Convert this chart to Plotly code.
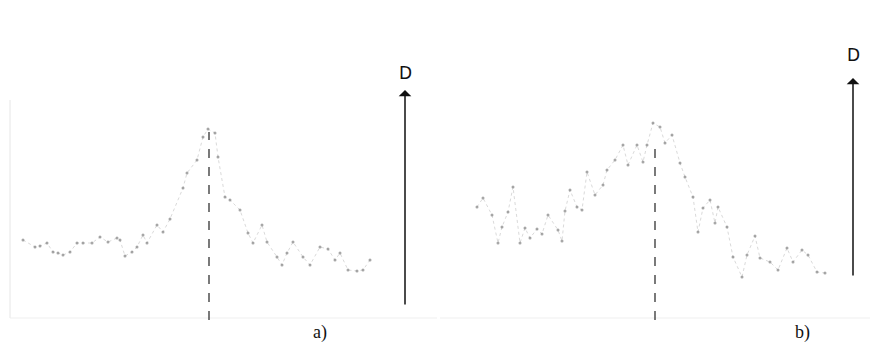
import plotly.graph_objects as go

# Panel a) : position along scan (arb. units) and intensity (arb. units)
xa = [23, 35, 40, 47, 53, 58, 63, 70, 77, 83, 92, 100, 108, 117, 120, 125, 132, 137, 143, 147,
      157, 163, 170, 183, 187, 197, 203, 208, 215, 218, 225, 230, 240, 248, 253, 262, 267, 277,
      282, 287, 293, 303, 310, 320, 328, 335, 340, 348, 357, 363, 370]
ya = [80, 73, 74, 77, 68, 67, 65, 68, 77, 77, 77, 83, 78, 82, 80, 64, 68, 73, 85, 77,
      95, 88, 101, 132, 147, 160, 183, 191, 187, 163, 123, 120, 110, 87, 77, 95, 78, 63,
      55, 67, 78, 63, 55, 73, 71, 60, 67, 50, 49, 50, 60]

# Panel b)
xb = [477, 483, 492, 498, 502, 508, 513, 520, 525, 530, 537, 542, 548, 558, 562, 565, 570, 577,
      582, 587, 595, 603, 607, 615, 623, 628, 637, 643, 647, 653, 660, 665, 672, 680, 685, 693,
      698, 703, 710, 715, 718, 727, 733, 742, 747, 755, 760, 770, 778, 787, 793, 802, 808, 817, 825]
yb = [113, 122, 105, 77, 93, 108, 133, 77, 92, 82, 91, 86, 105, 90, 79, 109, 130, 113,
      110, 148, 125, 135, 150, 160, 175, 155, 175, 158, 175, 197, 193, 177, 185, 157, 143, 123,
      88, 112, 120, 97, 113, 93, 63, 43, 65, 84, 62, 58, 50, 72, 58, 70, 65, 48, 47]

peak_a = 209
peak_b = 655

fig = go.Figure()
common = dict(mode="lines+markers",
              line=dict(color="#dadada", width=1, dash="dot"),
              marker=dict(color="#8a8a8a", size=3, opacity=0.75),
              showlegend=False, hoverinfo="skip")
fig.add_trace(go.Scatter(x=xa, y=ya, xaxis="x", yaxis="y", **common))
fig.add_trace(go.Scatter(x=xb, y=yb, xaxis="x2", yaxis="y", **common))

ax_common = dict(showgrid=False, zeroline=False, showticklabels=False, ticks="", showline=False)
fig.update_layout(
    width=875, height=347,
    margin=dict(l=0, r=0, t=0, b=0),
    paper_bgcolor="white", plot_bgcolor="white",
    xaxis=dict(domain=[0, 0.5], range=[0, 437.5], **ax_common),
    xaxis2=dict(domain=[0.5, 1], range=[437.5, 875], **ax_common),
    yaxis=dict(range=[-27, 320], **ax_common),
)

shapes = [
    # faint frames
    dict(type="line", xref="x", yref="y", x0=10, x1=10, y0=2, y1=220, line=dict(color="#e6e6e6", width=1)),
    dict(type="line", xref="x", yref="y", x0=10, x1=437, y0=2, y1=2, line=dict(color="#efefef", width=1)),
    dict(type="line", xref="x2", yref="y", x0=440, x1=870, y0=2, y1=2, line=dict(color="#efefef", width=1)),
    # dashed peak markers
    dict(type="line", xref="x", yref="y", x0=peak_a, x1=peak_a, y0=0, y1=188,
         line=dict(color="#222", width=1.2, dash="dash")),
    dict(type="line", xref="x2", yref="y", x0=peak_b, x1=peak_b, y0=0, y1=178,
         line=dict(color="#222", width=1.2, dash="dash")),
]
fig.update_layout(shapes=shapes)

annotations = [
    dict(x=405, y=230, ax=405, ay=14, xref="x", yref="y", axref="x", ayref="y",
         showarrow=True, arrowhead=1, arrowsize=1.4, arrowwidth=1.5, arrowcolor="#111", text=""),
    dict(x=853, y=242, ax=853, ay=43, xref="x2", yref="y", axref="x2", ayref="y",
         showarrow=True, arrowhead=1, arrowsize=1.4, arrowwidth=1.5, arrowcolor="#111", text=""),
    dict(x=405, y=247, xref="x", yref="y", text="D", showarrow=False,
         font=dict(family="DejaVu Sans", size=17, color="#111")),
    dict(x=853, y=265, xref="x2", yref="y", text="D", showarrow=False,
         font=dict(family="DejaVu Sans", size=17, color="#111")),
    dict(x=320, y=-12, xref="x", yref="y", text="a)", showarrow=False,
         font=dict(family="Liberation Serif", size=18, color="#111")),
    dict(x=802, y=-12, xref="x2", yref="y", text="b)", showarrow=False,
         font=dict(family="Liberation Serif", size=18, color="#111")),
]
fig.update_layout(annotations=annotations)

fig.write_html("out.html")
